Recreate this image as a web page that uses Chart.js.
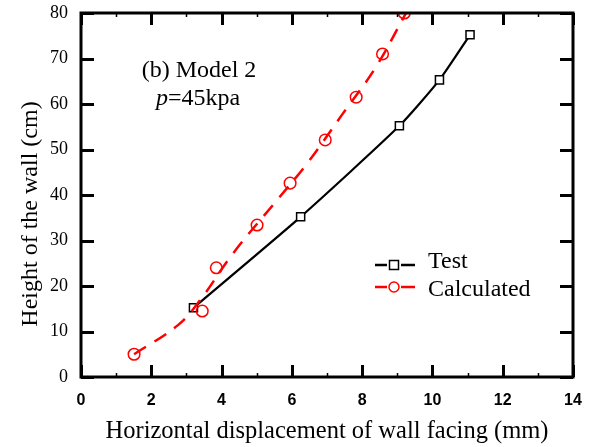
<!DOCTYPE html>
<html>
<head>
<meta charset="utf-8">
<script src="https://cdn.jsdelivr.net/npm/chart.js@4"></script>
<style>
html,body{margin:0;padding:0;background:#fff;}
#wrap{width:592px;height:447px;}
</style>
</head>
<body>
<div id="wrap"><canvas id="c" width="592" height="447"></canvas></div>
<script>
// Test (measured) points: x = displacement (mm), y = height (cm)
const testX = [3.2, 6.25, 9.06, 10.2, 11.07];
const testY = [15.2, 35.2, 55.2, 65.3, 75.2];
// Calculated points
const calcX = [1.51, 3.45, 3.85, 5.01, 5.95, 6.95, 7.83, 8.58, 9.2];
const calcY = [5.0, 14.5, 24.0, 33.4, 42.6, 52.1, 61.5, 71.0, 80.0];
// Calculated fitted curve (dashed)
const fitX = [1.51, 2.76, 3.39, 4.33, 5.58, 6.44, 7.46, 8.38, 9.25];
const fitY = [5.0, 11.4, 16.9, 27.2, 38.9, 47.0, 58.0, 68.0, 80.0];
// Axis ticks
const xTicks = [0, 2, 4, 6, 8, 10, 12, 14];
const yTicks = [0, 10, 20, 30, 40, 50, 60, 70, 80];
const seriesNames = ['Test', 'Calculated'];
const xTitle = 'Horizontal displacement of wall facing (mm)';
const yTitle = 'Height of the wall (cm)';

const zip = (xs, ys) => xs.map((x, i) => ({x: x, y: ys[i]}));
const SERIF = '"Liberation Serif", "Times New Roman", serif';
const SANS = '"Liberation Sans", Arial, sans-serif';

const framePlugin = {
  id: 'frame',
  afterDatasetsDraw(chart) {
    const ctx = chart.ctx, a = chart.chartArea;
    const xs = chart.scales.x, ys = chart.scales.y;
    ctx.save();
    ctx.strokeStyle = '#000';
    ctx.lineWidth = 3;
    ctx.strokeRect(a.left, a.top, a.right - a.left, a.bottom - a.top);
    // major ticks
    ctx.lineWidth = 3;
    ctx.beginPath();
    xTicks.forEach(v => {
      const px = Math.round(xs.getPixelForValue(v)) + 0.5;
      ctx.moveTo(px, a.bottom); ctx.lineTo(px, a.bottom - 12);
      ctx.moveTo(px, a.top); ctx.lineTo(px, a.top + 12);
    });
    yTicks.forEach(v => {
      const py = Math.round(ys.getPixelForValue(v)) + 0.5;
      ctx.moveTo(a.left, py); ctx.lineTo(a.left + 13, py);
      ctx.moveTo(a.right, py); ctx.lineTo(a.right - 13, py);
    });
    ctx.stroke();
    // minor x ticks
    ctx.lineWidth = 1.5;
    ctx.beginPath();
    for (let v = 1; v < 14; v += 2) {
      const px = Math.round(xs.getPixelForValue(v)) + 0.5;
      ctx.moveTo(px, a.bottom); ctx.lineTo(px, a.bottom - 4);
      ctx.moveTo(px, a.top); ctx.lineTo(px, a.top + 4);
    }
    ctx.stroke();

    // y axis title
    ctx.save();
    ctx.translate(37, 214);
    ctx.rotate(-Math.PI / 2);
    ctx.fillStyle = '#000';
    ctx.textAlign = 'center';
    ctx.textBaseline = 'alphabetic';
    ctx.font = '24px ' + SERIF;
    ctx.fillText(yTitle, 0, 0);
    ctx.restore();

    // annotation text
    ctx.fillStyle = '#000';
    ctx.textBaseline = 'alphabetic';
    ctx.textAlign = 'center';
    ctx.font = '24px ' + SERIF;
    ctx.fillText('(b) Model 2', a.left + 118, a.top + 64);
    ctx.font = 'italic 24px ' + SERIF;
    const pW = ctx.measureText('p').width;
    ctx.font = '24px ' + SERIF;
    const restW = ctx.measureText('=45kpa').width;
    const startX = a.left + 117 - (pW + restW) / 2;
    ctx.textAlign = 'left';
    ctx.font = 'italic 24px ' + SERIF;
    ctx.fillText('p', startX, a.top + 92);
    ctx.font = '24px ' + SERIF;
    ctx.fillText('=45kpa', startX + pW, a.top + 92);

    // legend
    const lx0 = a.left + 294, lx1 = a.left + 334, mx = a.left + 313;
    const items = [
      {name: seriesNames[0], color: '#000', y: a.top + 252, ty: a.top + 255, shape: 'rect'},
      {name: seriesNames[1], color: '#ff0000', y: a.top + 274, ty: a.top + 283, shape: 'circle'}
    ];
    items.forEach(it => {
      ctx.strokeStyle = it.color;
      ctx.lineWidth = 2.5;
      ctx.beginPath();
      ctx.moveTo(lx0, it.y); ctx.lineTo(mx - 7, it.y);
      ctx.moveTo(mx + 7, it.y); ctx.lineTo(lx1, it.y);
      ctx.stroke();
      ctx.lineWidth = 1.5;
      ctx.fillStyle = '#fff';
      ctx.beginPath();
      if (it.shape === 'rect') ctx.rect(mx - 4.5, it.y - 4.5, 9, 9);
      else ctx.arc(mx, it.y, 5, 0, Math.PI * 2);
      ctx.fill(); ctx.stroke();
      ctx.fillStyle = '#000';
      ctx.textAlign = 'left';
      ctx.textBaseline = 'alphabetic';
      ctx.font = '24px ' + SERIF;
      ctx.fillText(it.name, a.left + 347, it.ty);
    });
    ctx.restore();
  }
};

new Chart(document.getElementById('c'), {
  type: 'scatter',
  data: {
    datasets: [
      {
        label: 'Calculated fit',
        data: zip(fitX, fitY),
        showLine: true,
        borderColor: '#ff0000',
        borderWidth: 2.5,
        borderDash: [14, 10],
        pointRadius: 0,
        tension: 0.4,
        fill: false,
        clip: 0
      },
      {
        label: seriesNames[1],
        data: zip(calcX, calcY),
        showLine: false,
        pointStyle: 'circle',
        pointRadius: 5.8,
        pointBorderWidth: 1.5,
        pointBorderColor: '#ff0000',
        pointBackgroundColor: 'rgba(0,0,0,0)',
        clip: 0
      },
      {
        label: seriesNames[0],
        data: zip(testX, testY),
        showLine: true,
        borderColor: '#000',
        borderWidth: 2.2,
        tension: 0.2,
        pointStyle: 'rect',
        pointRadius: 5.7,
        pointBorderWidth: 1.5,
        pointBorderColor: '#000',
        pointBackgroundColor: '#fff'
      }
    ]
  },
  options: {
    responsive: false,
    animation: false,
    devicePixelRatio: 1,
    layout: {padding: {left: 0, top: 13, right: 19, bottom: 0}},
    plugins: {legend: {display: false}, tooltip: {enabled: false}},
    scales: {
      x: {
        type: 'linear', min: 0, max: 14,
        afterBuildTicks: s => { s.ticks = xTicks.map(v => ({value: v})); },
        afterFit: s => { s.height = 70; s.paddingLeft = 0; s.paddingRight = 0; },
        grid: {display: false, drawTicks: false},
        border: {display: false},
        ticks: {color: '#000', padding: 14, font: {family: SANS, size: 16, weight: 'bold'}},
        title: {display: true, text: xTitle, color: '#000',
                font: {family: SERIF, size: 24.5}, padding: {top: 0, bottom: 1}}
      },
      y: {
        type: 'linear', min: 0, max: 80,
        afterBuildTicks: s => { s.ticks = yTicks.map(v => ({value: v})); },
        afterFit: s => { s.width = 81; s.paddingTop = 0; s.paddingBottom = 0; },
        grid: {display: false, drawTicks: false},
        border: {display: false},
        ticks: {color: '#000', padding: 13, font: {family: SERIF, size: 18}},
        title: {display: false}
      }
    }
  },
  plugins: [framePlugin]
});
</script>
</body>
</html>
